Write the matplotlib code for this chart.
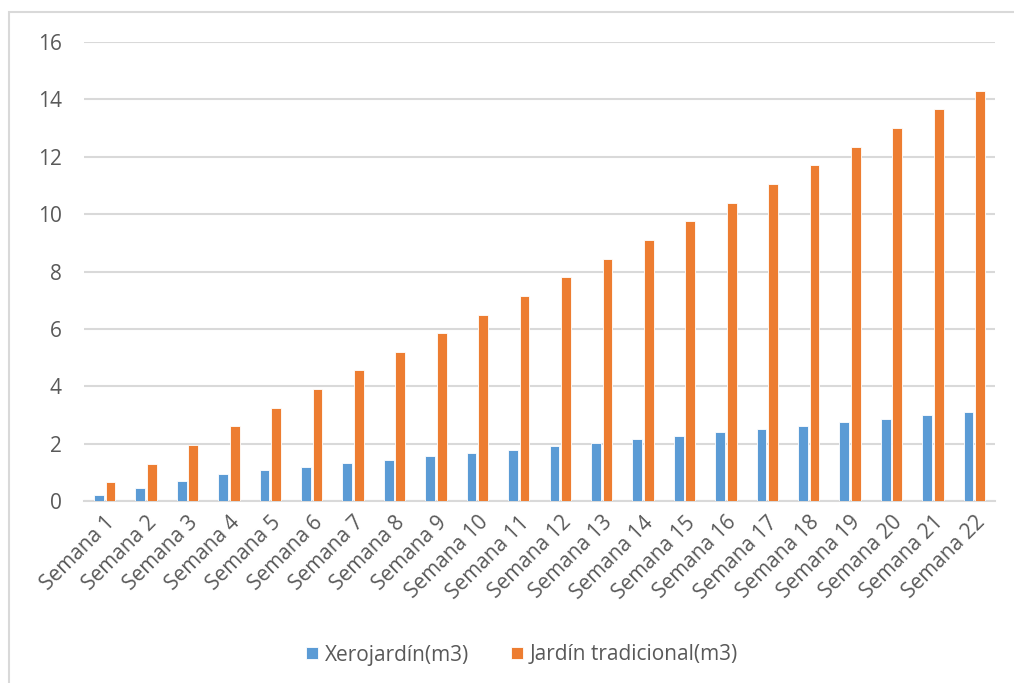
import matplotlib
matplotlib.use("Agg")
import matplotlib.pyplot as plt
import numpy as np
from matplotlib.patches import Rectangle

plt.rcParams['font.family'] = ['Open Sans', 'DejaVu Sans']

weeks = [f"Semana {i}" for i in range(1, 23)]
xerojardin = [0.22, 0.46, 0.70, 0.95, 1.07, 1.19, 1.31, 1.43, 1.56, 1.68, 1.79,
              1.91, 2.03, 2.15, 2.27, 2.39, 2.51, 2.63, 2.75, 2.87, 2.99, 3.10]
tradicional = [0.65, 1.30, 1.95, 2.60, 3.25, 3.90, 4.55, 5.20, 5.85, 6.50, 7.15,
               7.80, 8.45, 9.10, 9.75, 10.40, 11.05, 11.70, 12.35, 13.00, 13.65, 14.30]
yticks = [0, 2, 4, 6, 8, 10, 12, 14, 16]

blue = "#5B9BD5"
orange = "#ED7D31"
text_c = "#595959"
grid_c = "#D9D9D9"

W, H = 1014, 683
fig = plt.figure(figsize=(W / 100, H / 100), dpi=100)

# outer chart frame (runs off the right and bottom edges)
fig.patches.append(Rectangle((9 / W, -0.2), 1.3, 1.2 - 12 / H, transform=fig.transFigure,
                             fill=False, edgecolor="#D9D9D9", linewidth=1.5))

ax = fig.add_axes([84 / W, 1 - 501 / H, (995 - 84) / W, (501 - 42) / H])
x = np.arange(len(weeks))
bw = 0.235
off = 0.14
b1 = ax.bar(x - off, xerojardin, bw, color=blue, edgecolor="white", linewidth=0.6,
            label="Xerojardín(m3)", zorder=3)
b2 = ax.bar(x + off, tradicional, bw, color=orange, edgecolor="white", linewidth=0.6,
            label="Jardín tradicional(m3)", zorder=3)

ax.set_xlim(-0.5, len(weeks) - 0.5)
ax.set_ylim(0, 16)
ax.set_yticks(yticks)
ax.set_yticklabels([str(v) for v in yticks], fontsize=15, color=text_c)
ax.yaxis.grid(True, color=grid_c, linewidth=1.5, zorder=0)
ax.tick_params(axis='y', length=0, pad=16)
ax.tick_params(axis='x', length=0, pad=8)
for s in ['top', 'right', 'left']:
    ax.spines[s].set_visible(False)
ax.spines['bottom'].set_color(grid_c)
ax.spines['bottom'].set_linewidth(1.5)

ax.set_xticks(x)
ax.set_xticklabels(weeks, rotation=45, ha='right', rotation_mode='anchor',
                   fontsize=15, color=text_c)

leg = fig.legend(handles=[b1, b2], loc='center', bbox_to_anchor=(0.515, 1 - 655 / H),
                 ncol=2, frameon=False, fontsize=15, handlelength=0.55, handleheight=0.55,
                 handletextpad=0.35, columnspacing=2.0)
for t in leg.get_texts():
    t.set_color(text_c)

fig.savefig("out.png", dpi=100)
